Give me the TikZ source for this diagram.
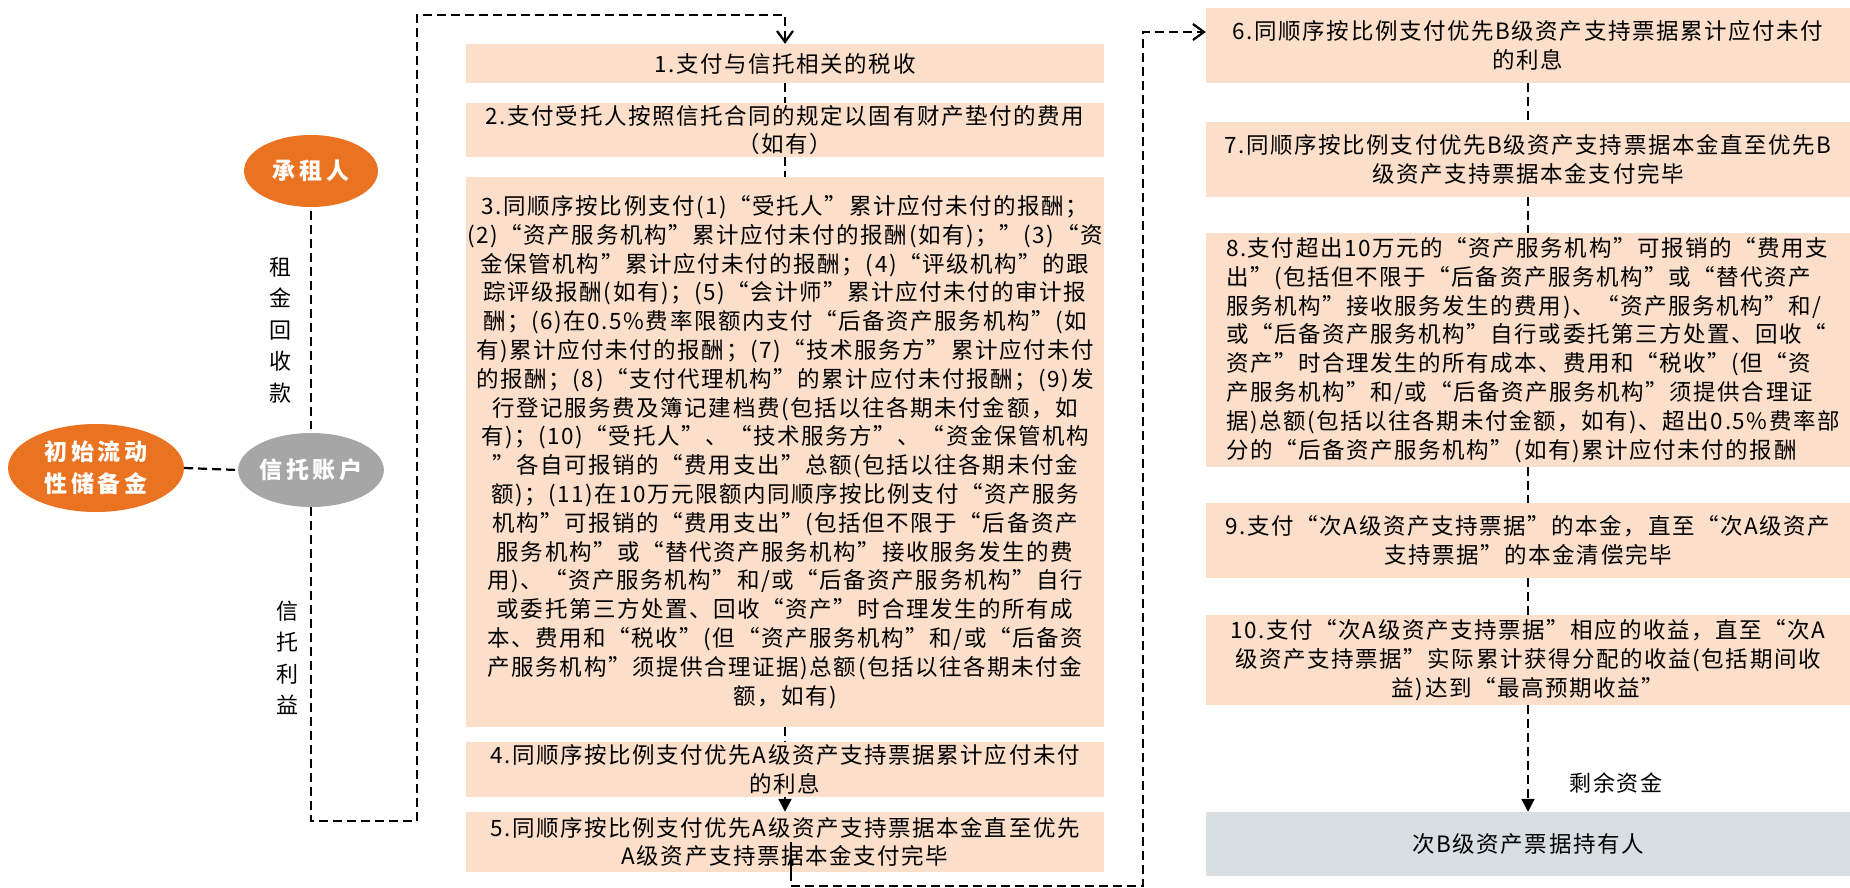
\documentclass[tikz,border=0pt]{standalone}
\usepackage{fontspec}
\usetikzlibrary{arrows.meta,shapes.geometric}
\newfontfamily\cjk[LetterSpace=7]{Noto Sans CJK SC}
\newfontfamily\cjkel[LetterSpace=16]{Noto Sans CJK SC}
\definecolor{peach}{HTML}{FCDFCB}
\definecolor{orng}{HTML}{E97320}
\definecolor{grayel}{HTML}{A6A6A6}
\definecolor{bluegray}{HTML}{D7DFE3}
\tikzset{
  boxbase/.style={rectangle, fill=peach, inner sep=0pt, align=center,
    font=\cjk\fontsize{22.5}{28.8}\selectfont},
  midbox/.style={boxbase, minimum width=638pt, text width=636pt},
  rbox/.style={boxbase, minimum width=644pt, text width=640pt},
  ell/.style={ellipse, inner sep=0pt, text=white, align=center,
    font=\cjkel\bfseries\fontsize{23}{32}\selectfont},
  vlab/.style={align=center, inner sep=0pt, font=\cjk\fontsize{22}{31.5}\selectfont},
  flow/.style={line width=2.2pt, dash pattern=on 9pt off 5pt},
  openarr/.style={-{Straight Barb[length=11pt,width=16pt]}},
  filarr/.style={-{Triangle[length=13pt,width=13pt]}}
}
\begin{document}
\begin{tikzpicture}[x=1pt,y=-1pt]
\useasboundingbox (0,0) rectangle (1850,888);

% ellipses
\node[ell, fill=orng, minimum width=134pt, minimum height=72pt] (cz) at (311,171) {承租人};
\node[ell, fill=grayel, minimum width=136pt, minimum height=74pt] (xt) at (311,470) {信托账户};
\node[ell, fill=orng, minimum width=176pt, minimum height=88pt] (cs) at (96,468) {初始流动\\性储备金};

% vertical labels
\node[vlab] (lab1) at (280,330) {租\\金\\回\\收\\款};
\node[vlab] (lab2) at (287,658) {信\\托\\利\\益};

% middle column
\node[midbox, minimum height=39pt] (b1) at (785,63.5) {1.支付与信托相关的税收};
\node[midbox, minimum height=54pt] (b2) at (785,130) {2.支付受托人按照信托合同的规定以固有财产垫付的费用\\（如有）};
\node[midbox, minimum height=550pt] (b3) at (785,452) {3.同顺序按比例支付(1)“受托人”累计应付未付的报酬；\\
(2)“资产服务机构”累计应付未付的报酬(如有)；”(3)“资\\
金保管机构”累计应付未付的报酬；(4)“评级机构”的跟\\
踪评级报酬(如有)；(5)“会计师”累计应付未付的审计报\\
酬；(6)在0.5\%费率限额内支付“后备资产服务机构”(如\\
有)累计应付未付的报酬；(7)“技术服务方”累计应付未付\\
的报酬；(8)“支付代理机构”的累计应付未付报酬；(9)发\\
行登记服务费及簿记建档费(包括以往各期未付金额，如\\
有)；(10)“受托人”、“技术服务方”、“资金保管机构\\
”各自可报销的“费用支出”总额(包括以往各期未付金\\
额)；(11)在10万元限额内同顺序按比例支付“资产服务\\
机构”可报销的“费用支出”(包括但不限于“后备资产\\
服务机构”或“替代资产服务机构”接收服务发生的费\\
用)、“资产服务机构”和/或“后备资产服务机构”自行\\
或委托第三方处置、回收“资产”时合理发生的所有成\\
本、费用和“税收”(但“资产服务机构”和/或“后备资\\
产服务机构”须提供合理证据)总额(包括以往各期未付金\\
额，如有)};
\node[midbox, minimum height=55pt] (b4) at (785,769.5) {4.同顺序按比例支付优先A级资产支持票据累计应付未付\\的利息};
\node[midbox, minimum height=60pt] (b5) at (785,842) {5.同顺序按比例支付优先A级资产支持票据本金直至优先\\A级资产支持票据本金支付完毕};

% right column
\node[rbox, minimum height=75pt] (b6) at (1528,45.5) {6.同顺序按比例支付优先B级资产支持票据累计应付未付\\的利息};
\node[rbox, minimum height=75pt] (b7) at (1528,159.5) {7.同顺序按比例支付优先B级资产支持票据本金直至优先B\\级资产支持票据本金支付完毕};
\node[rbox, minimum height=234pt, text width=604pt, align=left] (b8) at (1528,350) {8.支付超出10万元的“资产服务机构”可报销的“费用支\\
出”(包括但不限于“后备资产服务机构”或“替代资产\\
服务机构”接收服务发生的费用)、“资产服务机构”和/\\
或“后备资产服务机构”自行或委托第三方处置、回收“\\
资产”时合理发生的所有成本、费用和“税收”(但“资\\
产服务机构”和/或“后备资产服务机构”须提供合理证\\
据)总额(包括以往各期未付金额，如有)、超出0.5\%费率部\\
分的“后备资产服务机构”(如有)累计应付未付的报酬};
\node[rbox, minimum height=75pt] (b9) at (1528,540.5) {9.支付“次A级资产支持票据”的本金，直至“次A级资产\\支持票据”的本金清偿完毕};
\node[rbox, minimum height=90pt] (b10) at (1528,660) {10.支付“次A级资产支持票据”相应的收益，直至“次A\\级资产支持票据”实际累计获得分配的收益(包括期间收\\益)达到“最高预期收益”};
\node[rbox, fill=bluegray, minimum height=64pt] (bB) at (1528,844) {次B级资产票据持有人};
\node[vlab] (rest) at (1616,783) {剩余资金};

% loop coordinates
\coordinate (loopL) at (417,821);
\coordinate (loopT) at (417,15);
\coordinate (loopR) at (1143,886);
\coordinate (loopRT) at (1143,32);

% left connectors
\draw[flow, shorten <=4pt, shorten >=4pt] (cz.south) -- (xt.north);
\draw[flow] (cs.east) -- (xt.west);
\draw[flow, openarr] (xt.south) |- (loopL) -- (loopT) -| (b1.north);

% middle column connectors
\draw[flow] (b1) -- (b2);
\draw[flow] (b2) -- (b3);
\draw[flow] (b3) -- (b4);
\draw[line width=2.2pt, filarr] (b4) -- (b5);

% from box 5 to box 6
\draw[line width=2.2pt] ([xshift=6pt]b5.center) -- ([xshift=6pt]b5.south);
\draw[flow, openarr] ([xshift=6pt]b5.south) |- (loopR) -- (loopRT) -- (loopRT -| b6.west);

% right column connectors
\draw[flow] (b6) -- (b7);
\draw[flow] (b7) -- (b8);
\draw[flow] (b8) -- (b9);
\draw[flow] (b9) -- (b10);
\draw[flow, filarr] (b10) -- (bB);
\end{tikzpicture}
\end{document}
